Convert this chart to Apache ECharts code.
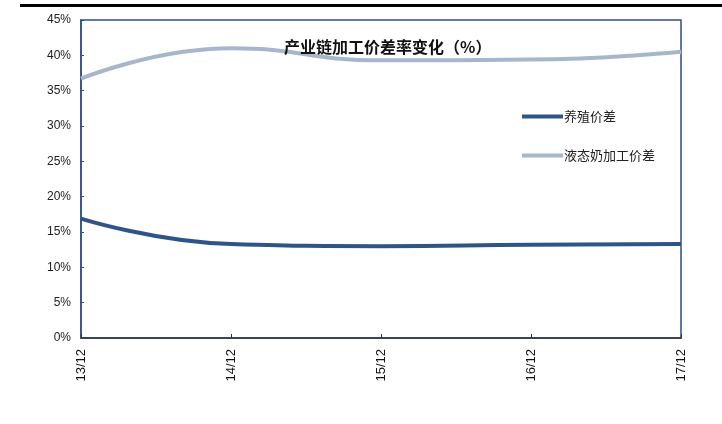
<!DOCTYPE html>
<html>
<head>
<meta charset="utf-8">
<script src="https://cdn.jsdelivr.net/npm/echarts@6/dist/echarts.min.js"></script>
<style>
  html, body { margin: 0; padding: 0; background: #fff; }
  #chart { width: 722px; height: 424px; }
</style>
</head>
<body>
<div id="chart"></div>
<script>
// 产业链加工价差率变化（%）
const categories = ['13/12', '14/12', '15/12', '16/12', '17/12'];
const breedingSpread = [16.9, 13.3, 13.0, 13.2, 13.3];   // 养殖价差
const liquidMilkSpread = [36.7, 41.0, 39.3, 39.4, 40.5]; // 液态奶加工价差
const yTicks = [0, 5, 10, 15, 20, 25, 30, 35, 40, 45];

const chart = echarts.init(document.getElementById('chart'));

const options = {
    animation: false,
    backgroundColor: '#fff',
    title: {
        text: '产业链加工价差率变化（%）',
        left: 279,
        top: 34,
        textStyle: {
            fontFamily: 'Noto Sans CJK SC',
            fontSize: 16,
            fontWeight: 'bold',
            color: '#111'
        }
    },
    legend: {
        orient: 'vertical',
        left: 517,
        top: 105,
        itemGap: 26,
        itemWidth: 41,
        itemHeight: 4,
        icon: 'rect',
        data: ['养殖价差', '液态奶加工价差'],
        textStyle: {
            fontFamily: 'Noto Sans CJK SC',
            fontSize: 13,
            color: '#222',
            padding: [0, 0, 0, -4]
        }
    },
    grid: {
        left: 81,
        right: 41,
        top: 20,
        bottom: 86,
        show: true,
        borderColor: '#2c4f86',
        borderWidth: 1.5,
        containLabel: false
    },
    graphic: [
        {
            type: 'rect',
            shape: { x: 20, y: 4, width: 702, height: 3 },
            style: { fill: '#000' }
        }
    ],
    xAxis: {
        type: 'category',
        boundaryGap: false,
        data: categories,
        axisLine: { lineStyle: { color: '#333', width: 1.5 } },
        axisTick: { inside: true, length: 4, lineStyle: { color: '#333' } },
        axisLabel: {
            rotate: 90,
            margin: 11,
            fontFamily: 'Liberation Sans',
            fontSize: 13,
            color: '#111'
        }
    },
    yAxis: {
        type: 'value',
        min: 0,
        max: 45,
        interval: 5,
        axisLine: { show: true, lineStyle: { color: '#2c4f86', width: 1.5 } },
        axisTick: { show: true, inside: true, length: 3, lineStyle: { color: '#2c4f86' } },
        splitLine: { show: false },
        axisLabel: {
            margin: 10,
            fontFamily: 'Liberation Sans',
            fontSize: 12,
            color: '#222',
            formatter: v => yTicks.includes(v) ? v + '%' : ''
        }
    },
    series: [
        {
            name: '养殖价差',
            type: 'line',
            smooth: 0.5,
            symbol: 'none',
            data: breedingSpread,
            lineStyle: { color: '#2f5488', width: 4 },
            itemStyle: { color: '#2f5488' }
        },
        {
            name: '液态奶加工价差',
            type: 'line',
            smooth: 0.5,
            symbol: 'none',
            data: liquidMilkSpread,
            lineStyle: { color: '#a8b6cb', width: 4 },
            itemStyle: { color: '#a8b6cb' }
        }
    ]
};

chart.setOption(options);
</script>
</body>
</html>
